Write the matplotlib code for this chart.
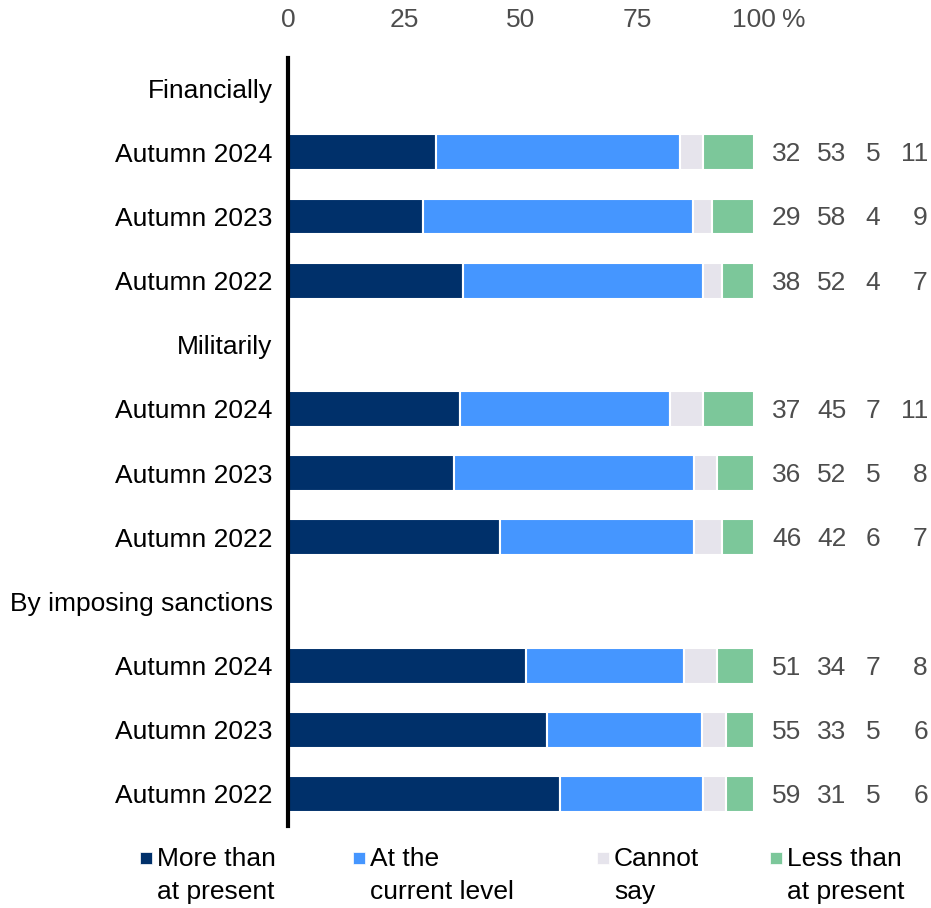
import matplotlib
matplotlib.use("Agg")
import matplotlib.pyplot as plt
from matplotlib.patches import Rectangle
from matplotlib.transforms import blended_transform_factory
import numpy as np

plt.rcParams["font.family"] = ["Liberation Sans", "DejaVu Sans"]

# data: rows top to bottom, None = group header
row_labels = ["Financially", "Autumn 2024", "Autumn 2023", "Autumn 2022",
              "Militarily", "Autumn 2024", "Autumn 2023", "Autumn 2022",
              "By imposing sanctions", "Autumn 2024", "Autumn 2023", "Autumn 2022"]
more_than = [None, 32, 29, 38, None, 37, 36, 46, None, 51, 55, 59]
current_level = [None, 53, 58, 52, None, 45, 52, 42, None, 34, 33, 31]
cannot_say = [None, 5, 4, 4, None, 7, 5, 6, None, 7, 5, 5]
less_than = [None, 11, 9, 7, None, 11, 8, 7, None, 8, 6, 6]

series = [more_than, current_level, cannot_say, less_than]
series_names = ["More than\nat present", "At the\ncurrent level", "Cannot\nsay", "Less than\nat present"]
colors = ["#00306a", "#4596ff", "#e6e4ec", "#7cc79a"]
xticks = [0, 25, 50, 75, 100]

text_gray = "#4d4d4d"
fs = 19

fig = plt.figure(figsize=(9.31, 9.08), dpi=100)
ax = fig.add_axes([288 / 931, 82 / 908, 466 / 931, 768 / 908])

n = len(row_labels)
ypos = np.arange(n)
value_x = [110.2, 119.8, 127.1, 137.3]

for i in range(n):
    if more_than[i] is None:
        continue
    vals = [s[i] for s in series]
    total = sum(vals)
    left = 0
    for v, c in zip(vals, colors):
        w = v / total * 100
        ax.barh(ypos[i], w, left=left, height=0.56, color=c,
                edgecolor="white", linewidth=1.5)
        left += w
    for v, xv in zip(vals, value_x):
        ax.text(xv, ypos[i] + 0.03, str(v), ha="right", va="center",
                fontsize=fs, color=text_gray, clip_on=False)

ax.set_xlim(0, 100)
ax.set_ylim(n - 0.5, -0.47)
ax.set_yticks(ypos)
ax.set_yticklabels(row_labels, fontsize=fs, color="black")
ax.set_xticks([])

# top scale labels
top_tr = blended_transform_factory(ax.transData, ax.transAxes)
for t in xticks:
    ax.text(t, 1.0495, str(t), transform=top_tr, ha="center", va="center",
            fontsize=fs, color=text_gray, clip_on=False)
ax.text(106.0, 1.0495, "%", transform=top_tr, ha="left", va="center",
        fontsize=fs, color=text_gray, clip_on=False)
ax.tick_params(axis="y", length=0, pad=11)

for side in ["top", "right", "bottom"]:
    ax.spines[side].set_visible(False)
ax.spines["left"].set_linewidth(3)
ax.spines["left"].set_color("black")

# legend
leg_x = [140, 353, 597, 770]
for name, c, lx in zip(series_names, colors, leg_x):
    fig.patches.append(Rectangle((lx / 931, (908 - 864) / 908), 12 / 931, 12 / 908,
                                 transform=fig.transFigure, facecolor=c,
                                 edgecolor="white", linewidth=0.5))
    fig.text((lx + 17) / 931, (908 - 847) / 908, name, ha="left", va="top",
             fontsize=fs, color="black", linespacing=1.45)

fig.savefig("out.png", dpi=100)
